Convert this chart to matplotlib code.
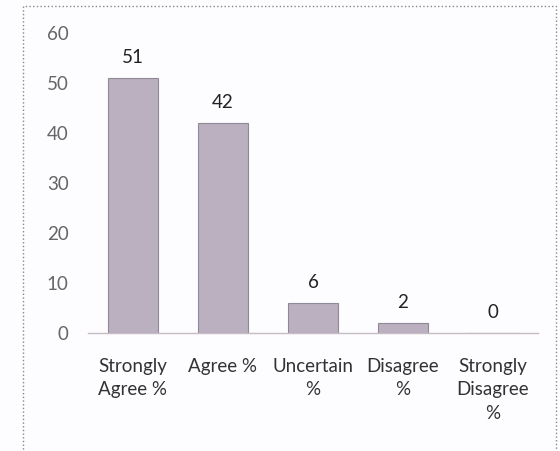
import matplotlib
matplotlib.use("Agg")
import matplotlib.pyplot as plt
from matplotlib.patches import Rectangle

categories = ["Strongly\nAgree %", "Agree %", "Uncertain\n%", "Disagree\n%", "Strongly\nDisagree\n%"]
values = [51, 42, 6, 2, 0]
yticks = [0, 10, 20, 30, 40, 50, 60]

plt.rcParams['font.family'] = ['Lato', 'DejaVu Sans']

fig = plt.figure(figsize=(5.6, 4.51), dpi=100)
fig.patch.set_facecolor('#fdfcfe')
ax = fig.add_axes([88/560, 1-333/451, 450/560, 300/451])
ax.set_facecolor('none')

x = list(range(len(categories)))
bars = ax.bar(x, values, width=0.55, color='#bab0c0', edgecolor='#8f8a96', linewidth=0.8)
for xi, v in zip(x, values):
    ax.annotate(str(v), (xi, v), xytext=(0, 15), textcoords='offset points',
                ha='center', va='center', fontsize=13.5, color='#222222')

ax.set_xlim(-0.5, len(categories) - 0.5)
ax.set_ylim(0, 60)
ax.set_yticks(yticks)
ax.set_xticks(x)
ax.set_xticklabels(categories, fontsize=13.5, color='#333333', linespacing=1.45, va='top')
ax.tick_params(axis='y', length=0, pad=14, labelsize=13.5, labelcolor='#666666')
ax.tick_params(axis='x', length=0, pad=18)
for s in ['left', 'top', 'right']:
    ax.spines[s].set_visible(False)
ax.spines['bottom'].set_color('#c8bcc4')
ax.spines['bottom'].set_linewidth(1.0)

fig.patches.append(Rectangle((23/560, -0.05), (556-23)/560, 1-6/451+0.05,
                             transform=fig.transFigure, fill=False,
                             edgecolor='#888888', linewidth=1.0, linestyle=':'))

fig.savefig('out.png', dpi=100, facecolor=fig.get_facecolor())
